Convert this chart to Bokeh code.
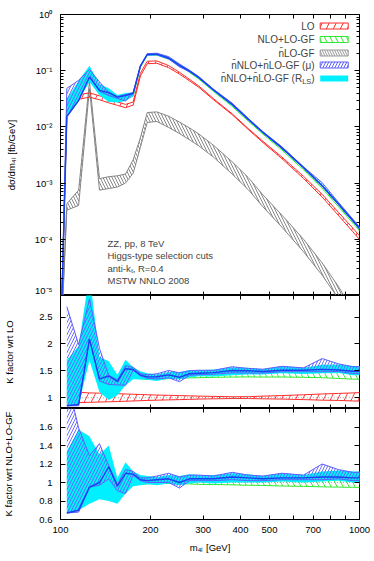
import json
import numpy as np
from bokeh.plotting import figure
from bokeh.layouts import column
from bokeh.models import (Range1d, LogAxis, LinearAxis, FixedTicker,
                          CustomJSTickFormatter, CustomLabelingPolicy, Label, BoxAnnotation)
from bokeh.embed import file_html
from bokeh.resources import INLINE

FONT = "Liberation Sans"

# ---------------- data ----------------
m4l = [105, 115, 125, 135, 145, 155, 165, 175, 185, 195, 210, 230, 250, 270, 290,
       325, 375, 425, 475, 550, 650, 750, 850, 950, 1050]
m4l_cut = 100            # lower edge of the m4l spectrum
xsec_below_cut = 1e-6    # cross section at the cut (drops out of the plot)

# LO cross section [fb/GeV] and its scale band (relative to LO central)
lo_xsec = [0.018, 0.034, 0.037, 0.033, 0.029, 0.026, 0.0235, 0.026, 0.085, 0.14,
           0.142, 0.118, 0.09, 0.068, 0.052, 0.031, 0.0168, 0.0091, 0.0054, 0.0028,
           0.00125, 0.00059, 0.00028, 0.000145, 0.000078]
lo_scale_dn = [0.91, 0.91, 0.915, 0.92, 0.925, 0.93, 0.935, 0.94, 0.945, 0.95, 0.955,
               0.96, 0.965, 0.97, 0.975, 0.98, 0.985, 0.985, 0.98, 0.975, 0.965, 0.955,
               0.95, 0.94, 0.935]
lo_scale_up = [1.10, 1.10, 1.09, 1.085, 1.08, 1.075, 1.07, 1.065, 1.06, 1.055, 1.05,
               1.045, 1.04, 1.035, 1.03, 1.025, 1.018, 1.02, 1.03, 1.04, 1.055, 1.07,
               1.08, 1.09, 1.10]

# NLO+LO-GF: K factor wrt LO, and its scale band (relative to NLO central)
k_nlo = [1.27, 1.25, 2.2, 1.35, 1.2, 1.36, 1.40, 1.40, 1.38, 1.36, 1.35, 1.37, 1.38,
         1.39, 1.40, 1.41, 1.42, 1.43, 1.43, 1.44, 1.44, 1.44, 1.43, 1.42, 1.42]
nlo_scale_dn = [0.93, 0.93, 0.95, 0.96, 0.96, 0.97, 0.97, 0.975, 0.98, 0.985, 0.99,
                0.99, 0.985, 0.985, 0.98, 0.978, 0.975, 0.97, 0.968, 0.962, 0.958,
                0.953, 0.95, 0.948, 0.945]
nlo_scale_up = [1.06, 1.06, 1.05, 1.04, 1.04, 1.03, 1.03, 1.025, 1.02, 1.02, 1.015,
                1.015, 1.018, 1.02, 1.02, 1.022, 1.025, 1.028, 1.03, 1.033, 1.036,
                1.04, 1.042, 1.045, 1.045]

# nNLO+nLO-GF: K factor wrt NLO+LO-GF (mu band, R_LS band, central)
nnlo_mu_dn = [0.67, 0.68, 0.95, 0.97, 1.04, 0.91, 0.88, 1.08, 1.02, 1.00, 1.00, 1.00,
              0.94, 1.02, 1.02, 1.02, 1.03, 1.02, 1.02, 1.03, 1.03, 1.03, 1.04, 1.02, 1.02]
nnlo_mu_up = [2.12, 1.59, 1.29, 1.42, 1.18, 0.98, 1.14, 1.12, 1.05, 1.05, 1.07, 1.10,
              1.06, 1.08, 1.08, 1.07, 1.11, 1.08, 1.07, 1.10, 1.08, 1.20, 1.14, 1.11, 1.11]
nnlo_rls_dn = [0.67, 0.70, 0.77, 0.82, 0.80, 0.77, 0.88, 0.96, 0.97, 0.98, 0.97, 0.99,
               0.97, 0.99, 1.00, 0.99, 1.00, 1.00, 1.00, 1.01, 1.00, 1.01, 1.02, 1.00, 1.00]
nnlo_rls_up = [1.34, 1.57, 1.50, 1.30, 1.40, 1.05, 1.22, 1.12, 1.08, 1.07, 1.06, 1.08,
               1.07, 1.09, 1.08, 1.08, 1.10, 1.09, 1.07, 1.10, 1.08, 1.12, 1.13, 1.12, 1.12]
nnlo_central = [0.67, 0.70, 0.95, 1.00, 1.17, 0.96, 1.10, 1.09, 1.03, 1.02, 1.03, 1.04,
                1.00, 1.04, 1.04, 1.04, 1.06, 1.05, 1.04, 1.05, 1.05, 1.06, 1.06, 1.05, 1.05]

# nLO-GF band [fb/GeV]
gf_xsec_dn = [3.3e-4, 4.0e-4, 0.048, 7.5e-4, 8e-4, 8.5e-4, 1.0e-3, 1.5e-3, 4.3e-3, 0.012,
              0.0125, 0.0098, 0.0076, 0.0059, 0.0046, 0.0029, 0.00145, 7.6e-4, 3.8e-4,
              1.65e-4, 6.0e-5, 2.3e-5, 8.8e-6, 3.4e-6, 1.3e-6]
gf_xsec_up = [4.3e-4, 7.5e-4, 0.065, 1.2e-3, 1.3e-3, 1.35e-3, 1.45e-3, 2.6e-3, 6.4e-3, 0.018,
              0.0185, 0.0155, 0.0122, 0.0096, 0.0075, 0.0047, 0.0024, 1.25e-3, 6.2e-4,
              2.7e-4, 1.0e-4, 3.8e-5, 1.45e-5, 5.5e-6, 2.1e-6]

x_ticks = [100, 200, 300, 400, 500, 600, 700, 800, 900, 1000]
x_tick_labels = ["100", "200", "300", "400", "500", "", "700", "", "", "1000"]
y_ticks_top = [1e-5, 1e-4, 1e-3, 1e-2, 1e-1, 1.0]
y_ticks_lo = [1.0, 1.5, 2.0, 2.5]
y_ticks_nlo = [0.6, 0.8, 1.0, 1.2, 1.4, 1.6]

legend_labels = ["LO", "NLO+LO-GF", "n\u0304LO-GF", "n\u0304NLO+n\u0304LO-GF (\u03bc)",
                 "n\u0304NLO+n\u0304LO-GF (R"]
info_lines = ["ZZ, pp, 8 TeV", "Higgs-type selection cuts", "anti-k\u209c, R=0.4",
              "MSTW NNLO 2008"]

# ---------------- styling ----------------
C_RED = "#ff2a2a"
C_GREEN = "#2ee82e"
C_GRAY = "#7a7a7a"
C_VIOLET = "#5e5eff"
C_BLUE = "#1a3ef0"
C_CYAN = "#00f0ff"

FW = 299
X0, X1 = 100.0, 1000.0
TOP_H, MID_H, BOT_H = 281, 113, 111
LEFT_B = 58

# ---------------- derived series ----------------
x = np.array(m4l, dtype=float)
lo = np.array(lo_xsec)
nlo = lo * np.array(k_nlo)
xt = np.r_[m4l_cut, x]


def top(a):
    return np.r_[xsec_below_cut, a]


x_fmt = CustomJSTickFormatter(code="const lab = %s; const v = lab[String(Math.round(tick))]; return v === undefined ? '' : v;"
                              % json.dumps(dict(zip([str(t) for t in x_ticks], x_tick_labels))))
log_fmt = CustomJSTickFormatter(code="""
const sup = {"-":"\u207b","0":"\u2070","1":"\u00b9","2":"\u00b2","3":"\u00b3","4":"\u2074",
             "5":"\u2075","6":"\u2076","7":"\u2077","8":"\u2078","9":"\u2079"};
const e = Math.round(Math.log10(tick));
return "10" + String(e).split("").map(c => sup[c]).join("");
""")
lin_fmt = CustomJSTickFormatter(code="return String(Math.round(tick*10)/10);")
blank_fmt = CustomJSTickFormatter(code="return '';")


def style_axis(ax, labels, tick_in=4, minor_in=0, standoff=6):
    ax.major_tick_in = tick_in
    ax.major_tick_out = 0
    ax.minor_tick_in = minor_in
    ax.minor_tick_out = 0
    ax.axis_line_color = None
    ax.major_tick_line_color = "black"
    ax.minor_tick_line_color = "black"
    ax.major_label_text_font = FONT
    ax.major_label_text_color = "black"
    ax.major_label_text_font_size = "9.5px" if labels else "0px"
    ax.major_label_standoff = standoff if labels else 0
    if not labels:
        ax.formatter = blank_fmt
        ax.major_label_policy = CustomLabelingPolicy(code="return new Set();")
    ax.axis_label_text_font = FONT
    ax.axis_label_text_font_size = "9.5px"
    ax.axis_label_text_font_style = "normal"
    ax.axis_label_text_color = "black"


def make_fig(frame_h, y_range, y_log, top_b, bot_b):
    p = figure(frame_width=FW, frame_height=frame_h,
               x_axis_type="log", y_axis_type="log" if y_log else "linear",
               x_range=Range1d(X0, X1), y_range=y_range,
               output_backend="svg", toolbar_location=None,
               min_border_left=LEFT_B, min_border_right=12,
               min_border_top=top_b, min_border_bottom=bot_b,
               background_fill_color="white", border_fill_color="white",
               outline_line_color="black", outline_line_width=1)
    p.grid.visible = False
    return p


def x_axes(p, bottom_labels):
    ax = p.below[0]
    ax.ticker = FixedTicker(ticks=x_ticks)
    ax.formatter = x_fmt
    style_axis(ax, bottom_labels, standoff=7)
    up = LogAxis(ticker=FixedTicker(ticks=x_ticks))
    style_axis(up, False)
    p.add_layout(up, "above")


def band(p, xs, y1, y2, color, pattern, scale, edge_w=1.0):
    p.varea(x=xs, y1=y1, y2=y2, fill_alpha=0, hatch_pattern=pattern,
            hatch_color=color, hatch_scale=scale, hatch_weight=0.9, hatch_alpha=1)
    p.line(xs, y1, line_color=color, line_width=edge_w)
    p.line(xs, y2, line_color=color, line_width=edge_w)


def solid(p, xs, y1, y2, color):
    p.varea(x=xs, y1=y1, y2=y2, fill_color=color, fill_alpha=1)


# ---------------- top panel ----------------
p1 = make_fig(TOP_H, Range1d(1e-5, 1.0), True, 14, 0)
x_axes(p1, False)
minor_top = [k * 10.0 ** e for e in range(-5, 0) for k in range(2, 10)]
ly = p1.left[0]
ly.ticker = FixedTicker(ticks=y_ticks_top, minor_ticks=minor_top)
ly.formatter = log_fmt
style_axis(ly, True, tick_in=5, minor_in=3, standoff=8)
ly.axis_label = "d\u03c3/dm\u2084\u2097 [fb/GeV]"
ly.axis_label_standoff = 15
ry = LogAxis(ticker=FixedTicker(ticks=y_ticks_top, minor_ticks=minor_top))
style_axis(ry, False, tick_in=5, minor_in=3)
p1.add_layout(ry, "right")

band(p1, xt, top(np.array(gf_xsec_dn)), top(np.array(gf_xsec_up)), C_GRAY, "\\", 6, 0.9)
band(p1, xt, top(lo * np.array(lo_scale_dn)), top(lo * np.array(lo_scale_up)), C_RED, "/", 14)
band(p1, xt, top(nlo * np.array(nlo_scale_dn)), top(nlo * np.array(nlo_scale_up)), C_GREEN, "\\", 12)
solid(p1, xt, top(nlo * np.array(nnlo_rls_dn)), top(nlo * np.array(nnlo_rls_up)), C_CYAN)
band(p1, xt, top(nlo * np.array(nnlo_mu_dn)), top(nlo * np.array(nnlo_mu_up)), C_VIOLET, "/", 6)
p1.line(xt, top(nlo * np.array(nnlo_central)), line_color=C_BLUE, line_width=1.4)


# legend (label left, sample box right)
def x_at(px):
    return X0 * (X1 / X0) ** (px / FW)


def y_top_at(py):
    return 10.0 ** (-5.0 * py / TOP_H)


leg_styles = [
    dict(fill_alpha=0, line_color=C_RED, hatch_pattern="/", hatch_color=C_RED, hatch_scale=14),
    dict(fill_alpha=0, line_color=C_GREEN, hatch_pattern="\\", hatch_color=C_GREEN, hatch_scale=11),
    dict(fill_alpha=0, line_color="#999999", hatch_pattern="\\", hatch_color="#999999", hatch_scale=5),
    dict(fill_alpha=0, line_color=C_VIOLET, hatch_pattern="/", hatch_color=C_VIOLET, hatch_scale=6),
    dict(fill_color=C_CYAN, fill_alpha=1, line_alpha=0),
]
row_py = [11.5, 25.0, 38.5, 50.5, 64.0]
for i, (lab, st) in enumerate(zip(legend_labels, leg_styles)):
    yc = y_top_at(row_py[i])
    yb = y_top_at(row_py[i] + 3.0)
    yt = y_top_at(row_py[i] - 3.0)
    box = BoxAnnotation(left=x_at(259.7), right=x_at(287.7), bottom=yb, top=yt,
                        line_width=1, line_alpha=st.pop("line_alpha", 1), **st)
    p1.add_layout(box)
    if i < 4:
        p1.add_layout(Label(x=x_at(254), y=yc, text=lab, text_align="right",
                            text_baseline="middle", text_font=FONT, text_font_size="10px"))
    else:
        p1.add_layout(Label(x=x_at(254), y=yc, text=")", text_align="right",
                            text_baseline="middle", text_font=FONT, text_font_size="10px"))
        p1.add_layout(Label(x=x_at(250.8), y=y_top_at(row_py[i] + 2.5), text="LS",
                            text_align="right", text_baseline="middle", text_font=FONT,
                            text_font_size="7.5px"))
        p1.add_layout(Label(x=x_at(241.6), y=yc, text=lab, text_align="right",
                            text_baseline="middle", text_font=FONT, text_font_size="10px"))

for j, line in enumerate(info_lines):
    p1.add_layout(Label(x=x_at(47), y=y_top_at(228.5 + 12.5 * j), text=line,
                        text_align="left", text_baseline="middle",
                        text_font=FONT, text_font_size="9.5px"))

# ---------------- middle panel: K factor wrt LO ----------------
p2 = make_fig(MID_H, Range1d(0.8, 2.9), False, 0, 0)
x_axes(p2, False)
ly2 = p2.left[0]
ly2.ticker = FixedTicker(ticks=y_ticks_lo)
ly2.formatter = lin_fmt
style_axis(ly2, True, tick_in=5, standoff=8)
ly2.axis_label = "K factor wrt LO"
ly2.axis_label_standoff = 21
ry2 = LinearAxis(ticker=FixedTicker(ticks=y_ticks_lo))
style_axis(ry2, False, tick_in=5)
p2.add_layout(ry2, "right")

kn = np.array(k_nlo)
band(p2, x, np.array(lo_scale_dn), np.array(lo_scale_up), C_RED, "/", 14)
p2.line(x, np.ones_like(x), line_color="#9a9a9a", line_width=1, line_dash="1 2")
band(p2, x, kn * np.array(nlo_scale_dn), kn * np.array(nlo_scale_up), C_GREEN, "\\", 12)
solid(p2, x, kn * np.array(nnlo_rls_dn), kn * np.array(nnlo_rls_up), C_CYAN)
band(p2, x, kn * np.array(nnlo_mu_dn), kn * np.array(nnlo_mu_up), C_VIOLET, "/", 6)
p2.line(x, kn * np.array(nnlo_central), line_color=C_BLUE, line_width=1.4)

# ---------------- bottom panel: K factor wrt NLO+LO-GF ----------------
p3 = make_fig(BOT_H, Range1d(0.6, 1.8), False, 0, 40)
x_axes(p3, True)
bx = p3.below[0]
bx.axis_label = "m\u2084\u2097 [GeV]"
bx.axis_label_standoff = 6
ly3 = p3.left[0]
ly3.ticker = FixedTicker(ticks=y_ticks_nlo)
ly3.formatter = lin_fmt
style_axis(ly3, True, tick_in=5, standoff=8)
ly3.axis_label = "K factor wrt NLO+LO-GF"
ly3.axis_label_standoff = 22
ry3 = LinearAxis(ticker=FixedTicker(ticks=y_ticks_nlo))
style_axis(ry3, False, tick_in=5)
p3.add_layout(ry3, "right")

p3.line(x, np.ones_like(x), line_color="#9a9a9a", line_width=1, line_dash="1 2")
band(p3, x, np.array(nlo_scale_dn), np.array(nlo_scale_up), C_GREEN, "\\", 12)
solid(p3, x, np.array(nnlo_rls_dn), np.array(nnlo_rls_up), C_CYAN)
band(p3, x, np.array(nnlo_mu_dn), np.array(nnlo_mu_up), C_VIOLET, "/", 6)
p3.line(x, np.array(nnlo_central), line_color=C_BLUE, line_width=1.4)

layout = column(p1, p2, p3, spacing=0)
open("out.html", "w").write(file_html(layout, INLINE))
